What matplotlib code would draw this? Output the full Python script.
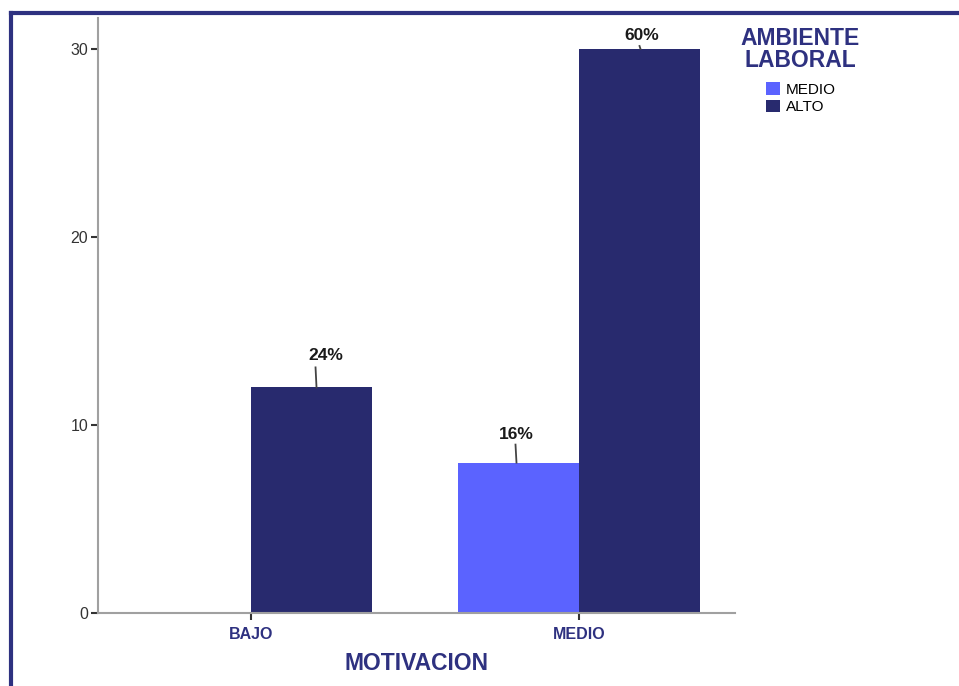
import matplotlib.pyplot as plt
import numpy as np
from matplotlib.patches import Patch

categories = ["BAJO", "MEDIO"]
groups = ["MEDIO", "ALTO"]
medio_vals = [0, 8]
alto_vals = [12, 30]
medio_pct = [None, "16%"]
alto_pct = ["24%", "60%"]

navy = "#282a6e"
light = "#5b63ff"
title_col = "#2e3180"
FONT = "Liberation Sans"

W, H = 959, 686
PX = 18.8  # pixels per unit on the y axis
XPX = 328  # pixels per category on the x axis
fig = plt.figure(figsize=(W / 100, H / 100), dpi=100)
ax = fig.add_axes([98 / W, 1 - 613 / H, (735 - 98) / W, (613 - 18) / H])

x = np.arange(len(categories))
w = 0.369
ax.bar(x - w / 2, medio_vals, w, color=light, edgecolor="none")
ax.bar(x + w / 2, alto_vals, w, color=navy, edgecolor="none")

# leader line length, text offset (px up), line/text shift (px right), as SPSS placed them
offsets = {"24%": (20, 32, 5, 14), "16%": (18, 28, -2, -2), "60%": (3, 14, 1, 2)}

def label(xc, v, txt):
    if txt is None:
        return
    line_px, text_px, line_dx, text_dx = offsets[txt]
    lx = xc + line_dx / XPX
    ax.plot([lx, lx - 0.003], [v, v + line_px / PX], color="#444444", lw=1.3,
            clip_on=False)
    ax.text(xc + text_dx / XPX, v + text_px / PX, txt, ha="center", va="center",
            fontsize=12.5, fontweight="bold", color="#1a1a1a", family=FONT)

for i in range(len(categories)):
    label(x[i] - w / 2, medio_vals[i], medio_pct[i])
    label(x[i] + w / 2, alto_vals[i], alto_pct[i])

ax.set_xlim((98 - 251) / XPX, (735 - 251) / XPX)
ax.set_ylim(0, (613 - 18) / PX)
ax.set_yticks([0, 10, 20, 30])
ax.set_xticks(x)
ax.set_xticklabels(categories, fontsize=11.5, fontweight="bold", color=title_col,
                   family=FONT)
for t in ax.get_yticklabels():
    t.set_fontsize(11.5)
    t.set_color("#333333")
    t.set_family(FONT)
ax.tick_params(axis="both", length=5, width=1.5, color="#333333", pad=2)
ax.tick_params(axis="x", pad=5)
for s in ["top", "right"]:
    ax.spines[s].set_visible(False)
for s in ["left", "bottom"]:
    ax.spines[s].set_color("#a0a0a0")
    ax.spines[s].set_linewidth(1.5)

fig.text(416 / W, 1 - 663 / H, "MOTIVACION", ha="center", va="center",
         fontsize=16.5, fontweight="bold", color=title_col, family=FONT)

fig.text(800 / W, 1 - 49.5 / H, "AMBIENTE\nLABORAL", ha="center", va="center",
         fontsize=16.5, fontweight="bold", color=title_col, family=FONT,
         linespacing=0.9)
handles = [Patch(facecolor=light, label=groups[0]), Patch(facecolor=navy, label=groups[1])]
fig.legend(handles=handles, loc="upper left", bbox_to_anchor=(760 / W, 1 - 76 / H),
           frameon=False, handlelength=0.9, handleheight=0.9,
           handletextpad=0.4, labelspacing=0.2, borderaxespad=0,
           prop={"family": FONT, "size": 11})

# frame lines
fig.add_artist(plt.Line2D([11 / W, 1], [1 - 13 / H, 1 - 13 / H], color="#2e3180", lw=3))
fig.add_artist(plt.Line2D([11 / W, 11 / W], [0, 1 - 13 / H], color="#2e3180", lw=3))

fig.savefig("out.png", dpi=100)
